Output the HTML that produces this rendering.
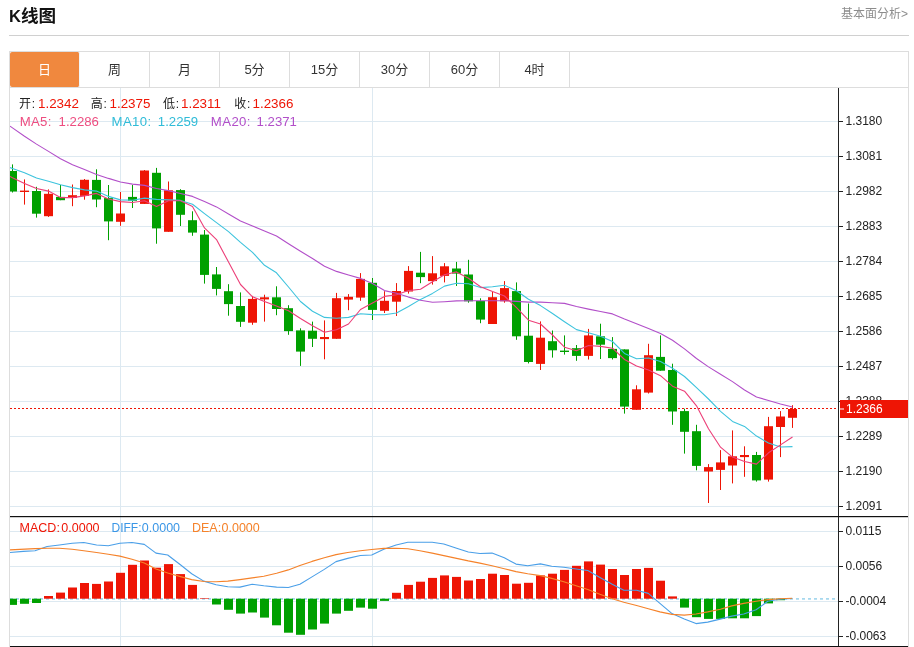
<!DOCTYPE html>
<html lang="zh-CN">
<head>
<meta charset="utf-8">
<title>K线图</title>
<style>
html,body{margin:0;padding:0;background:#fff;}
body{width:914px;height:647px;position:relative;overflow:hidden;font-family:"Liberation Sans","Noto Sans CJK SC",sans-serif;color:#222;}
.title{position:absolute;left:9px;top:4px;font-size:17.6px;font-weight:bold;line-height:24px;color:#111;}
.title .k{font-size:16.5px;}
.more{position:absolute;right:6px;top:5px;font-size:12px;line-height:18px;color:#8c8c8c;}
.hr{position:absolute;left:9px;top:35px;width:900px;height:1px;background:#d0d0d0;}
.tabs{position:absolute;left:9px;top:51px;width:898px;height:35px;border:1px solid #ddd;}
.tab{position:absolute;top:0;width:69px;height:35px;border-right:1px solid #ddd;text-align:center;line-height:36px;font-size:13px;color:#333;}
.tab.on{background:#f0883e;color:#fff;width:69px;height:35px;line-height:36px;border-radius:2px;border-right:1px solid #f1f5f8;}
</style>
</head>
<body>
<div class="title"><span class="k">K</span>线图</div>
<div class="more">基本面分析&gt;</div>
<div class="hr"></div>
<svg width="914" height="647" viewBox="0 0 914 647" style="position:absolute;left:0;top:0">
<defs><clipPath id="cp"><rect x="10" y="88" width="828" height="558"/></clipPath></defs>
<rect x="10" y="121" width="828" height="1" fill="#dde9f1"/>
<rect x="10" y="156" width="828" height="1" fill="#dde9f1"/>
<rect x="10" y="191" width="828" height="1" fill="#dde9f1"/>
<rect x="10" y="226" width="828" height="1" fill="#dde9f1"/>
<rect x="10" y="261" width="828" height="1" fill="#dde9f1"/>
<rect x="10" y="296" width="828" height="1" fill="#dde9f1"/>
<rect x="10" y="331" width="828" height="1" fill="#dde9f1"/>
<rect x="10" y="366" width="828" height="1" fill="#dde9f1"/>
<rect x="10" y="401" width="828" height="1" fill="#dde9f1"/>
<rect x="10" y="436" width="828" height="1" fill="#dde9f1"/>
<rect x="10" y="471" width="828" height="1" fill="#dde9f1"/>
<rect x="10" y="506" width="828" height="1" fill="#dde9f1"/>
<rect x="10" y="531" width="828" height="1" fill="#dde9f1"/>
<rect x="10" y="566" width="828" height="1" fill="#dde9f1"/>
<rect x="10" y="601" width="828" height="1" fill="#dde9f1"/>
<rect x="10" y="636" width="828" height="1" fill="#dde9f1"/>
<rect x="120" y="88" width="1" height="558" fill="#dde9f1"/>
<rect x="372" y="88" width="1" height="558" fill="#dde9f1"/>
<rect x="9" y="87" width="1" height="560" fill="#dddddd"/>
<rect x="908" y="87" width="1" height="560" fill="#dddddd"/>
<g clip-path="url(#cp)">
<line x1="10" y1="598.9" x2="838" y2="598.9" stroke="#a6d8ee" stroke-width="1.6" stroke-dasharray="3 3"/>
<line x1="10" y1="408.5" x2="838" y2="408.5" stroke="#ee1505" stroke-width="1" stroke-dasharray="2 2"/>
<rect x="12" y="164.4" width="1" height="28.1" fill="#00a000"/>
<rect x="8" y="171" width="9" height="20.5" fill="#00a000"/>
<rect x="24" y="179.4" width="1" height="25.2" fill="#ee1505"/>
<rect x="20" y="190.6" width="9" height="1.4" fill="#ee1505"/>
<rect x="36" y="186.8" width="1" height="30.8" fill="#00a000"/>
<rect x="32" y="191" width="9" height="22.7" fill="#00a000"/>
<rect x="48" y="189.4" width="1" height="27.5" fill="#ee1505"/>
<rect x="44" y="193.8" width="9" height="22.4" fill="#ee1505"/>
<rect x="60" y="185" width="1" height="15.2" fill="#00a000"/>
<rect x="56" y="196.9" width="9" height="3.3" fill="#00a000"/>
<rect x="72" y="184.5" width="1" height="21.7" fill="#ee1505"/>
<rect x="68" y="195.2" width="9" height="2.8" fill="#ee1505"/>
<rect x="84" y="179" width="1" height="20.7" fill="#ee1505"/>
<rect x="80" y="179.8" width="9" height="16.1" fill="#ee1505"/>
<rect x="96" y="169.3" width="1" height="37.9" fill="#00a000"/>
<rect x="92" y="179.9" width="9" height="19.6" fill="#00a000"/>
<rect x="108" y="185" width="1" height="55.2" fill="#00a000"/>
<rect x="104" y="198.1" width="9" height="23.3" fill="#00a000"/>
<rect x="120" y="192" width="1" height="33.8" fill="#ee1505"/>
<rect x="116" y="213.5" width="9" height="8.3" fill="#ee1505"/>
<rect x="132" y="185" width="1" height="23" fill="#00a000"/>
<rect x="128" y="196.9" width="9" height="3.9" fill="#00a000"/>
<rect x="144" y="170.1" width="1" height="33.8" fill="#ee1505"/>
<rect x="140" y="170.5" width="9" height="33.4" fill="#ee1505"/>
<rect x="156" y="167.9" width="1" height="75.8" fill="#00a000"/>
<rect x="152" y="172.8" width="9" height="55.6" fill="#00a000"/>
<rect x="168" y="181.5" width="1" height="50.3" fill="#ee1505"/>
<rect x="164" y="190.3" width="9" height="41.5" fill="#ee1505"/>
<rect x="180" y="189.2" width="1" height="36.8" fill="#00a000"/>
<rect x="176" y="190.1" width="9" height="24.7" fill="#00a000"/>
<rect x="192" y="211.3" width="1" height="24.5" fill="#00a000"/>
<rect x="188" y="220.2" width="9" height="12.4" fill="#00a000"/>
<rect x="204" y="230" width="1" height="53.6" fill="#00a000"/>
<rect x="200" y="234.6" width="9" height="40.3" fill="#00a000"/>
<rect x="216" y="267" width="1" height="28.4" fill="#00a000"/>
<rect x="212" y="274.4" width="9" height="14.5" fill="#00a000"/>
<rect x="228" y="284.2" width="1" height="31.5" fill="#00a000"/>
<rect x="224" y="291.2" width="9" height="12.9" fill="#00a000"/>
<rect x="240" y="292.4" width="1" height="34.5" fill="#00a000"/>
<rect x="236" y="306" width="9" height="15.8" fill="#00a000"/>
<rect x="252" y="295.9" width="1" height="28.9" fill="#ee1505"/>
<rect x="248" y="298.9" width="9" height="23.8" fill="#ee1505"/>
<rect x="264" y="294.7" width="1" height="26.9" fill="#ee1505"/>
<rect x="260" y="297.3" width="9" height="2.1" fill="#ee1505"/>
<rect x="276" y="286.3" width="1" height="28.9" fill="#00a000"/>
<rect x="272" y="297.3" width="9" height="11.7" fill="#00a000"/>
<rect x="288" y="305.2" width="1" height="29.6" fill="#00a000"/>
<rect x="284" y="308.2" width="9" height="22.9" fill="#00a000"/>
<rect x="300" y="328.3" width="1" height="37.6" fill="#00a000"/>
<rect x="296" y="330.4" width="9" height="21.2" fill="#00a000"/>
<rect x="312" y="321.6" width="1" height="25.4" fill="#00a000"/>
<rect x="308" y="330.7" width="9" height="8.1" fill="#00a000"/>
<rect x="324" y="320.4" width="1" height="38.9" fill="#ee1505"/>
<rect x="320" y="337" width="9" height="2.1" fill="#ee1505"/>
<rect x="336" y="292.9" width="1" height="45.9" fill="#ee1505"/>
<rect x="332" y="298.2" width="9" height="40.6" fill="#ee1505"/>
<rect x="348" y="294.1" width="1" height="16.1" fill="#ee1505"/>
<rect x="344" y="296.8" width="9" height="2.8" fill="#ee1505"/>
<rect x="360" y="273.1" width="1" height="27.7" fill="#ee1505"/>
<rect x="356" y="278.9" width="9" height="18.7" fill="#ee1505"/>
<rect x="372" y="278" width="1" height="42" fill="#00a000"/>
<rect x="368" y="282.8" width="9" height="27.1" fill="#00a000"/>
<rect x="384" y="291.2" width="1" height="21.8" fill="#ee1505"/>
<rect x="380" y="300.8" width="9" height="10" fill="#ee1505"/>
<rect x="396" y="283.1" width="1" height="32.9" fill="#ee1505"/>
<rect x="392" y="291" width="9" height="10.7" fill="#ee1505"/>
<rect x="408" y="266.1" width="1" height="27.5" fill="#ee1505"/>
<rect x="404" y="270.9" width="9" height="20.6" fill="#ee1505"/>
<rect x="420" y="251.9" width="1" height="31.3" fill="#00a000"/>
<rect x="416" y="272.7" width="9" height="4.4" fill="#00a000"/>
<rect x="432" y="256.1" width="1" height="28.5" fill="#ee1505"/>
<rect x="428" y="273.3" width="9" height="7.8" fill="#ee1505"/>
<rect x="444" y="263.1" width="1" height="19.3" fill="#ee1505"/>
<rect x="440" y="266.3" width="9" height="9.6" fill="#ee1505"/>
<rect x="456" y="261.9" width="1" height="24.1" fill="#00a000"/>
<rect x="452" y="268.5" width="9" height="5.1" fill="#00a000"/>
<rect x="468" y="259.8" width="1" height="42.9" fill="#00a000"/>
<rect x="464" y="274.5" width="9" height="26.8" fill="#00a000"/>
<rect x="480" y="298.3" width="1" height="24.9" fill="#00a000"/>
<rect x="476" y="300.9" width="9" height="18.7" fill="#00a000"/>
<rect x="492" y="292" width="1" height="32" fill="#ee1505"/>
<rect x="488" y="297.2" width="9" height="26.8" fill="#ee1505"/>
<rect x="504" y="281.1" width="1" height="21.6" fill="#ee1505"/>
<rect x="500" y="288.1" width="9" height="13.2" fill="#ee1505"/>
<rect x="516" y="282.4" width="1" height="57.4" fill="#00a000"/>
<rect x="512" y="291.1" width="9" height="45.2" fill="#00a000"/>
<rect x="528" y="303.5" width="1" height="59.9" fill="#00a000"/>
<rect x="524" y="335.7" width="9" height="26.3" fill="#00a000"/>
<rect x="540" y="321.4" width="1" height="48.6" fill="#ee1505"/>
<rect x="536" y="337.7" width="9" height="26.2" fill="#ee1505"/>
<rect x="552" y="330.5" width="1" height="27.1" fill="#00a000"/>
<rect x="548" y="341.2" width="9" height="9.1" fill="#00a000"/>
<rect x="564" y="335.4" width="1" height="19.2" fill="#00a000"/>
<rect x="560" y="350.6" width="9" height="1.4" fill="#00a000"/>
<rect x="576" y="345" width="1" height="15.8" fill="#00a000"/>
<rect x="572" y="348.2" width="9" height="7.7" fill="#00a000"/>
<rect x="588" y="328.9" width="1" height="30.6" fill="#ee1505"/>
<rect x="584" y="335.4" width="9" height="20.5" fill="#ee1505"/>
<rect x="600" y="323.7" width="1" height="35.3" fill="#00a000"/>
<rect x="596" y="336.3" width="9" height="8.4" fill="#00a000"/>
<rect x="612" y="337.1" width="1" height="22.4" fill="#00a000"/>
<rect x="608" y="348.9" width="9" height="9.2" fill="#00a000"/>
<rect x="624" y="349.4" width="1" height="64.2" fill="#00a000"/>
<rect x="620" y="349.4" width="9" height="57.2" fill="#00a000"/>
<rect x="636" y="385.3" width="1" height="24.5" fill="#ee1505"/>
<rect x="632" y="389.3" width="9" height="20.5" fill="#ee1505"/>
<rect x="648" y="343.8" width="1" height="49.7" fill="#ee1505"/>
<rect x="644" y="355.2" width="9" height="37.4" fill="#ee1505"/>
<rect x="660" y="335.4" width="1" height="35.3" fill="#00a000"/>
<rect x="656" y="356.9" width="9" height="13.8" fill="#00a000"/>
<rect x="672" y="363.7" width="1" height="61.1" fill="#00a000"/>
<rect x="668" y="370" width="9" height="41.5" fill="#00a000"/>
<rect x="684" y="408.7" width="1" height="44.9" fill="#00a000"/>
<rect x="680" y="411.1" width="9" height="20.7" fill="#00a000"/>
<rect x="696" y="424.8" width="1" height="45.5" fill="#00a000"/>
<rect x="692" y="431.2" width="9" height="34.7" fill="#00a000"/>
<rect x="708" y="464.1" width="1" height="38.9" fill="#ee1505"/>
<rect x="704" y="467.1" width="9" height="4.4" fill="#ee1505"/>
<rect x="720" y="450.1" width="1" height="39.9" fill="#ee1505"/>
<rect x="716" y="462.4" width="9" height="7.5" fill="#ee1505"/>
<rect x="732" y="430.4" width="1" height="53" fill="#ee1505"/>
<rect x="728" y="456.3" width="9" height="9.2" fill="#ee1505"/>
<rect x="744" y="446.3" width="1" height="30.5" fill="#ee1505"/>
<rect x="740" y="455" width="9" height="2.1" fill="#ee1505"/>
<rect x="756" y="451.9" width="1" height="29.7" fill="#00a000"/>
<rect x="752" y="455" width="9" height="25.4" fill="#00a000"/>
<rect x="768" y="416.9" width="1" height="64.7" fill="#ee1505"/>
<rect x="764" y="426.2" width="9" height="53.4" fill="#ee1505"/>
<rect x="780" y="411.1" width="1" height="46" fill="#ee1505"/>
<rect x="776" y="416.5" width="9" height="10.5" fill="#ee1505"/>
<rect x="792" y="405.2" width="1" height="22.7" fill="#ee1505"/>
<rect x="788" y="409" width="9" height="8.8" fill="#ee1505"/>
<rect x="8" y="598.7" width="9" height="6.2" fill="#00a000"/>
<rect x="20" y="598.7" width="9" height="5.1" fill="#00a000"/>
<rect x="32" y="598.7" width="9" height="4.3" fill="#00a000"/>
<rect x="44" y="596" width="9" height="2.7" fill="#ee1505"/>
<rect x="56" y="592.6" width="9" height="6.1" fill="#ee1505"/>
<rect x="68" y="587.5" width="9" height="11.2" fill="#ee1505"/>
<rect x="80" y="583" width="9" height="15.7" fill="#ee1505"/>
<rect x="92" y="583.9" width="9" height="14.8" fill="#ee1505"/>
<rect x="104" y="581.5" width="9" height="17.2" fill="#ee1505"/>
<rect x="116" y="572.8" width="9" height="25.9" fill="#ee1505"/>
<rect x="128" y="564.8" width="9" height="33.9" fill="#ee1505"/>
<rect x="140" y="560.5" width="9" height="38.2" fill="#ee1505"/>
<rect x="152" y="567.7" width="9" height="31" fill="#ee1505"/>
<rect x="164" y="564.1" width="9" height="34.6" fill="#ee1505"/>
<rect x="176" y="574.1" width="9" height="24.6" fill="#ee1505"/>
<rect x="188" y="584.9" width="9" height="13.8" fill="#ee1505"/>
<rect x="200" y="598.1" width="9" height="0.6" fill="#ee1505"/>
<rect x="212" y="598.7" width="9" height="5.8" fill="#00a000"/>
<rect x="224" y="598.7" width="9" height="11.1" fill="#00a000"/>
<rect x="236" y="598.7" width="9" height="14.9" fill="#00a000"/>
<rect x="248" y="598.7" width="9" height="13.8" fill="#00a000"/>
<rect x="260" y="598.7" width="9" height="18.9" fill="#00a000"/>
<rect x="272" y="598.7" width="9" height="26.6" fill="#00a000"/>
<rect x="284" y="598.7" width="9" height="34" fill="#00a000"/>
<rect x="296" y="598.7" width="9" height="36.1" fill="#00a000"/>
<rect x="308" y="598.7" width="9" height="30.8" fill="#00a000"/>
<rect x="320" y="598.7" width="9" height="24.9" fill="#00a000"/>
<rect x="332" y="598.7" width="9" height="14.9" fill="#00a000"/>
<rect x="344" y="598.7" width="9" height="12.1" fill="#00a000"/>
<rect x="356" y="598.7" width="9" height="8.9" fill="#00a000"/>
<rect x="368" y="598.7" width="9" height="10" fill="#00a000"/>
<rect x="380" y="598.7" width="9" height="2.2" fill="#00a000"/>
<rect x="392" y="592.8" width="9" height="5.9" fill="#ee1505"/>
<rect x="404" y="584.9" width="9" height="13.8" fill="#ee1505"/>
<rect x="416" y="581.7" width="9" height="17" fill="#ee1505"/>
<rect x="428" y="577.9" width="9" height="20.8" fill="#ee1505"/>
<rect x="440" y="575.4" width="9" height="23.3" fill="#ee1505"/>
<rect x="452" y="576.9" width="9" height="21.8" fill="#ee1505"/>
<rect x="464" y="580.5" width="9" height="18.2" fill="#ee1505"/>
<rect x="476" y="579" width="9" height="19.7" fill="#ee1505"/>
<rect x="488" y="573.7" width="9" height="25" fill="#ee1505"/>
<rect x="500" y="575" width="9" height="23.7" fill="#ee1505"/>
<rect x="512" y="583.7" width="9" height="15" fill="#ee1505"/>
<rect x="524" y="582.8" width="9" height="15.9" fill="#ee1505"/>
<rect x="536" y="575.4" width="9" height="23.3" fill="#ee1505"/>
<rect x="548" y="573.7" width="9" height="25" fill="#ee1505"/>
<rect x="560" y="569.9" width="9" height="28.8" fill="#ee1505"/>
<rect x="572" y="565.8" width="9" height="32.9" fill="#ee1505"/>
<rect x="584" y="561.4" width="9" height="37.3" fill="#ee1505"/>
<rect x="596" y="564.6" width="9" height="34.1" fill="#ee1505"/>
<rect x="608" y="569" width="9" height="29.7" fill="#ee1505"/>
<rect x="620" y="575" width="9" height="23.7" fill="#ee1505"/>
<rect x="632" y="569" width="9" height="29.7" fill="#ee1505"/>
<rect x="644" y="567.9" width="9" height="30.8" fill="#ee1505"/>
<rect x="656" y="580.7" width="9" height="18" fill="#ee1505"/>
<rect x="668" y="596.4" width="9" height="2.3" fill="#ee1505"/>
<rect x="680" y="598.7" width="9" height="8.9" fill="#00a000"/>
<rect x="692" y="598.7" width="9" height="18.5" fill="#00a000"/>
<rect x="704" y="598.7" width="9" height="20.2" fill="#00a000"/>
<rect x="716" y="598.7" width="9" height="20.2" fill="#00a000"/>
<rect x="728" y="598.7" width="9" height="19.6" fill="#00a000"/>
<rect x="740" y="598.7" width="9" height="19.6" fill="#00a000"/>
<rect x="752" y="598.7" width="9" height="17.4" fill="#00a000"/>
<rect x="764" y="598.7" width="9" height="4.7" fill="#00a000"/>
<rect x="776" y="598.7" width="9" height="1.5" fill="#00a000"/>
<polyline fill="none" stroke="#b24fc9" stroke-width="1.1" stroke-linejoin="round" points="10,126.1 12.5,127.9 24.5,136.3 36.5,144.1 48.5,151.4 60.5,158.7 72.5,164.7 84.5,169.6 96.5,174.5 108.5,178.4 120.5,182 132.5,184.1 144.5,185.4 156.5,188.5 168.5,190.6 180.5,193.5 192.5,196.4 204.5,201.6 216.5,206.9 228.5,214 240.5,221 252.5,226 264.5,231 276.5,236 288.5,243.8 300.5,251.3 312.5,258.5 324.5,266.3 336.5,271.4 348.5,275 360.5,278.4 372.5,283.6 384.5,290.6 396.5,293.3 408.5,297.1 420.5,300.3 432.5,302.3 444.5,301.7 456.5,300.9 468.5,300.8 480.5,300.7 492.5,300.7 504.5,300.7 516.5,301.4 528.5,302.1 540.5,302.1 552.5,302.7 564.5,303.4 576.5,306.5 588.5,309.1 600.5,311.5 612.5,313.9 624.5,319.1 636.5,323.7 648.5,328.4 660.5,333.4 672.5,340.2 684.5,348.9 696.5,358.5 708.5,366.9 720.5,374.3 732.5,381.6 744.5,390 756.5,397 768.5,400.5 780.5,404 792.5,407"/>
<polyline fill="none" stroke="#3dc3dd" stroke-width="1.1" stroke-linejoin="round" points="10,167.6 12.5,168.5 24.5,172.8 36.5,178 48.5,181.2 60.5,184.7 72.5,187.6 84.5,189.9 96.5,191.1 108.5,196.4 120.5,199.9 132.5,200.2 144.5,198.1 156.5,199.4 168.5,199.9 180.5,200.4 192.5,204.3 204.5,213.6 216.5,222.6 228.5,231.6 240.5,242.4 252.5,252.3 264.5,265.3 276.5,272.8 288.5,287 300.5,301.5 312.5,311.2 324.5,317.4 336.5,318.3 348.5,317.4 360.5,313.7 372.5,314.6 384.5,314.8 396.5,313 408.5,306.5 420.5,299.4 432.5,293.4 444.5,286.1 456.5,283.2 468.5,283.8 480.5,287.6 492.5,286.7 504.5,285.2 516.5,290.8 528.5,299.2 540.5,305.6 552.5,313.5 564.5,321.7 576.5,329.6 588.5,332.8 600.5,336.3 612.5,341.5 624.5,353.4 636.5,358.7 648.5,358 660.5,361.5 672.5,368.3 684.5,376.5 696.5,387.7 708.5,399 720.5,411.3 732.5,421.4 744.5,426.4 756.5,436.1 768.5,443.1 780.5,447 792.5,446.6"/>
<polyline fill="none" stroke="#ec3f78" stroke-width="1.1" stroke-linejoin="round" points="10,176.4 12.5,177.7 24.5,183.6 36.5,188.5 48.5,191.1 60.5,197.6 72.5,197.6 84.5,195.9 96.5,193.4 108.5,199 120.5,201.6 132.5,202.5 144.5,200.8 156.5,206.5 168.5,200.8 180.5,200.8 192.5,206.4 204.5,227.9 216.5,239.6 228.5,262 240.5,284.5 252.5,296.8 264.5,301.5 276.5,306 288.5,310.8 300.5,318.5 312.5,325.7 324.5,332.2 336.5,329.7 348.5,324 360.5,309.5 372.5,302.9 384.5,296.4 396.5,294.7 408.5,290.6 420.5,289.3 432.5,281.7 444.5,274.7 456.5,271.9 468.5,278.2 480.5,286.7 492.5,291.6 504.5,296 516.5,307.7 528.5,320.2 540.5,324 552.5,335 564.5,347.2 576.5,350.8 588.5,345.5 600.5,346.4 612.5,348.2 624.5,359.5 636.5,366 648.5,370 660.5,375.7 672.5,386.2 684.5,391.2 696.5,405.8 708.5,428.8 720.5,447.2 732.5,457.1 744.5,461.5 756.5,464.1 768.5,452.8 780.5,444.9 792.5,437"/>
<polyline fill="none" stroke="#4a9fe8" stroke-width="1.1" stroke-linejoin="round" points="9.8,552.5 23.3,551.4 35,550.8 47.1,546.5 59.4,545 72.2,543.3 83.8,542.5 96.6,545 108.3,545.7 119.9,543.3 132,542.5 144.3,544.4 156,553.1 167.7,555 180.4,564.8 191.7,573.7 203.8,581.1 216.1,584.7 227.8,586.8 239.9,587.1 252.2,584.3 263.8,585.8 276.6,587.1 288.3,587.5 299.9,584.3 312,576.9 324.3,569.4 336,561.6 347.7,558.4 360.4,555.5 371.7,555 383.8,549.3 396.1,545 407.8,542.3 419.9,542.3 432.2,542.3 443.8,544 456.6,548.2 468.3,552 479.9,553.5 492,553.1 504.3,557.8 516,564.1 527.7,565.8 540.4,563.9 551.7,566.3 563.8,567.3 576.1,569 587.8,570.5 599.9,577.5 612.2,584.3 623.8,590.2 636.6,590.2 648.3,593.4 659.9,603.4 672,613.6 684.3,618.9 696,623.6 707.7,622.1 720.2,619.1 731.7,616.1 743.8,614 756.1,609.8 767.8,601.3 779.9,599.2 792.2,598.5"/>
<polyline fill="none" stroke="#f5822a" stroke-width="1.1" stroke-linejoin="round" points="9.8,549.9 35,548.6 47.1,548.2 59.4,548.2 72.2,549.3 83.8,550.8 96.6,552.5 108.3,554.2 119.9,556.1 132,559.2 144.3,563.1 156,569 167.7,573 180.4,576.6 191.7,579.6 203.8,581.5 216.1,581.7 227.8,581.1 239.9,579.6 252.2,577.9 263.8,576.2 276.6,573.3 288.3,569.9 299.9,565.6 312,561.4 324.3,557.8 336,554.6 347.7,552.5 360.4,550.8 371.7,549.5 383.8,548.4 396.1,548.2 407.8,548.8 419.9,550.8 432.2,553.1 443.8,555.6 456.6,558.4 468.3,560.9 479.9,563.1 492,565.8 504.3,568.8 516,571.6 527.7,573.7 540.4,575.6 551.7,578.4 563.8,581.7 576.1,585.8 587.8,589.6 599.9,594.3 612.2,598.7 623.8,602.3 636.6,605.5 648.3,608.7 659.9,611.9 672,614.4 684.3,615.1 696,614 707.7,611.9 720.4,609.3 731.7,605.9 743.8,603.4 756.1,601.3 767.8,599.6 779.9,598.7 792.2,598.3"/>
</g>
<rect x="838" y="88" width="1" height="558" fill="#222"/>
<rect x="10" y="516" width="898" height="1.2" fill="#111"/>
<rect x="10" y="646" width="898" height="1" fill="#111"/>
<g font-family="'Liberation Sans', sans-serif" font-size="12" fill="#222">
<rect x="839" y="121" width="4" height="1" fill="#222"/>
<text x="845.5" y="125.3">1.3180</text>
<rect x="839" y="156" width="4" height="1" fill="#222"/>
<text x="845.5" y="160.3">1.3081</text>
<rect x="839" y="191" width="4" height="1" fill="#222"/>
<text x="845.5" y="195.3">1.2982</text>
<rect x="839" y="226" width="4" height="1" fill="#222"/>
<text x="845.5" y="230.3">1.2883</text>
<rect x="839" y="261" width="4" height="1" fill="#222"/>
<text x="845.5" y="265.3">1.2784</text>
<rect x="839" y="296" width="4" height="1" fill="#222"/>
<text x="845.5" y="300.3">1.2685</text>
<rect x="839" y="331" width="4" height="1" fill="#222"/>
<text x="845.5" y="335.3">1.2586</text>
<rect x="839" y="366" width="4" height="1" fill="#222"/>
<text x="845.5" y="370.3">1.2487</text>
<rect x="839" y="401" width="4" height="1" fill="#222"/>
<text x="845.5" y="405.3">1.2388</text>
<rect x="839" y="436" width="4" height="1" fill="#222"/>
<text x="845.5" y="440.3">1.2289</text>
<rect x="839" y="471" width="4" height="1" fill="#222"/>
<text x="845.5" y="475.3">1.2190</text>
<rect x="839" y="506" width="4" height="1" fill="#222"/>
<text x="845.5" y="510.3">1.2091</text>
<rect x="839" y="531" width="4" height="1" fill="#222"/>
<text x="845.5" y="535.3">0.0115</text>
<rect x="839" y="566" width="4" height="1" fill="#222"/>
<text x="845.5" y="570.3">0.0056</text>
<rect x="839" y="601" width="4" height="1" fill="#222"/>
<text x="845.5" y="605.3">-0.0004</text>
<rect x="839" y="636" width="4" height="1" fill="#222"/>
<text x="845.5" y="640.3">-0.0063</text>
</g>
<rect x="840" y="400" width="68" height="18" fill="#ee1505"/>
<rect x="840" y="408.5" width="4" height="1" fill="#fff"/>
<text x="846" y="413.1" font-family="'Liberation Sans', sans-serif" font-size="12" fill="#fff">1.2366</text>
<g font-family="'Liberation Sans', 'Noto Sans CJK SC', sans-serif" font-size="13">
<text y="108.4" font-size="12" fill="#222" letter-spacing="0.8"><tspan x="19">开:</tspan><tspan x="90.8">高:</tspan><tspan x="163">低:</tspan><tspan x="234.3">收:</tspan></text>
<text y="107.6" font-size="13.4" fill="#ee1505"><tspan x="38">1.2342</tspan><tspan x="109.5">1.2375</tspan><tspan x="181">1.2311</tspan><tspan x="252.5">1.2366</tspan></text>
<text y="125.8" font-size="13.2"><tspan x="19.7" fill="#ee4d80" letter-spacing="0.3">MA5:</tspan><tspan x="58.6" fill="#ee4d80">1.2286</tspan><tspan x="111.5" fill="#30bcd8" letter-spacing="0.4">MA10:</tspan><tspan x="157.8" fill="#30bcd8">1.2259</tspan><tspan x="210.8" fill="#b24fc9" letter-spacing="0.4">MA20:</tspan><tspan x="256.6" fill="#b24fc9">1.2371</tspan></text>
<text y="532" font-size="12.5"><tspan x="19.6" fill="#ee1505">MACD:</tspan><tspan x="61.3" fill="#ee1505">0.0000</tspan><tspan x="111.5" fill="#3a96e6" font-size="12">DIFF:</tspan><tspan x="141.8" fill="#3a96e6">0.0000</tspan><tspan x="192" fill="#f5822a">DEA:</tspan><tspan x="221.5" fill="#f5822a">0.0000</tspan></text>
</g>
</svg>
<div class="tabs">
<div class="tab on" style="left:0">日</div>
<div class="tab" style="left:70px">周</div>
<div class="tab" style="left:140px">月</div>
<div class="tab" style="left:210px">5分</div>
<div class="tab" style="left:280px">15分</div>
<div class="tab" style="left:350px">30分</div>
<div class="tab" style="left:420px">60分</div>
<div class="tab" style="left:490px">4时</div>
</div>
</body>
</html>
